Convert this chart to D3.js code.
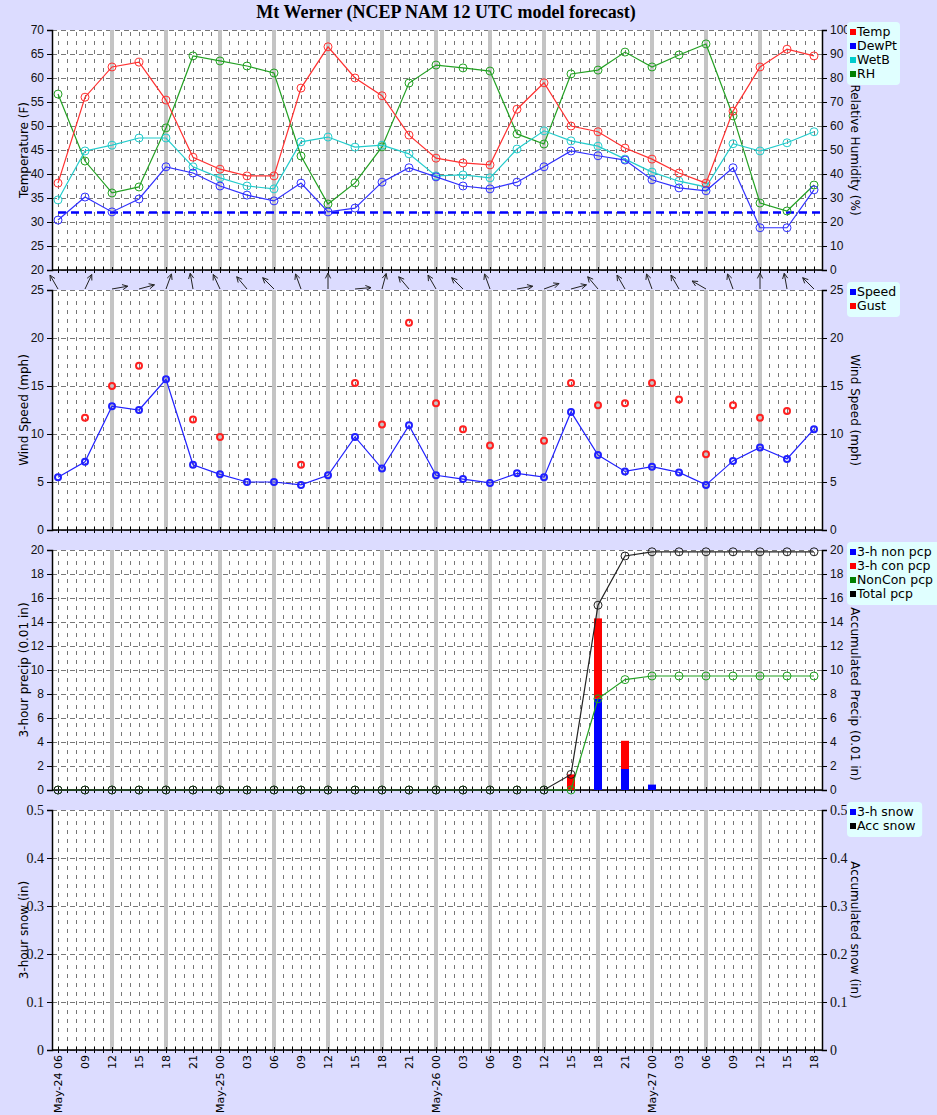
<!DOCTYPE html>
<html>
<head>
<meta charset="utf-8">
<script src="https://cdn.jsdelivr.net/npm/d3@7"></script>
<style>
body { margin: 0; background: #dcdcff; }
svg { display: block; font-family: "DejaVu Sans", Verdana, sans-serif; }
</style>
</head>
<body>
<div id="chart"></div>
<script>
// forecast hours, 3-hourly from May-24 06
const hourLabels = ["06","09","12","15","18","21","00","03","06","09","12","15","18","21","00","03","06","09","12","15","18","21","00","03","06","09","12","15","18"];
const dayLabels = {0: "May-24 06", 6: "May-25 00", 14: "May-26 00", 22: "May-27 00"};

const temp = [38.1,56.0,62.3,63.3,55.4,43.5,41.0,39.6,39.6,57.9,66.5,60.0,56.3,48.1,43.3,42.3,41.9,53.5,59.0,50.0,48.8,45.4,43.1,40.2,38.1,53.1,62.3,66.0,64.6];
const dewpt = [30.4,35.2,32.1,34.8,41.5,40.2,37.5,35.6,34.4,38.1,32.1,32.9,38.3,41.3,39.4,37.5,36.9,38.3,41.5,44.8,43.8,42.9,38.8,37.1,36.5,41.3,28.8,28.8,36.7];
const wetb = [34.6,44.8,46.0,47.5,47.5,41.5,39.2,37.5,36.9,46.7,47.7,45.6,46.0,44.2,39.6,39.8,39.2,45.2,49.0,46.9,45.8,43.1,40.4,38.5,37.3,46.3,44.8,46.5,48.8];
const rh = [73.3,45.4,32.1,34.6,59.2,89.2,87.1,85.0,82.1,47.5,27.5,36.3,51.3,77.9,85.4,84.2,82.9,56.7,52.5,81.7,83.3,90.8,84.6,89.6,94.2,64.2,27.9,24.6,35.4];
const freezing = 32;

// wind direction arrows: heading in degrees clockwise from north
const windDir = [-30,25,80,75,20,-10,-25,-40,-45,-20,0,85,15,-40,-30,-45,-20,80,70,75,-40,-30,-20,-30,-60,-20,0,-10,-45];
const speed = [5.5,7.1,12.9,12.5,15.7,6.8,5.8,5.0,5.0,4.7,5.7,9.7,6.4,10.9,5.7,5.3,4.9,5.9,5.5,12.3,7.8,6.1,6.6,6.0,4.7,7.2,8.6,7.4,10.5];
const gust = [null,11.7,15.0,17.1,null,11.5,9.7,null,null,6.8,null,15.3,11.0,21.6,13.2,10.5,8.8,null,9.3,15.3,13.0,13.2,15.3,13.6,7.9,13.0,11.7,12.4,null];

const nonPcp = [0,0,0,0,0,0,0,0,0,0,0,0,0,0,0,0,0,0,0,0,7.6,1.75,0.45,0,0,0,0,0,0];
const conPcp = [0,0,0,0,0,0,0,0,0,0,0,0,0,0,0,0,0,0,0,1.3,6.7,2.35,0,0,0,0,0,0,0];
const accNonCon = [0,0,0,0,0,0,0,0,0,0,0,0,0,0,0,0,0,0,0,0,7.6,9.2,9.5,9.5,9.5,9.5,9.5,9.5,9.5];
const accTotal = [0,0,0,0,0,0,0,0,0,0,0,0,0,0,0,0,0,0,0,1.3,15.4,19.5,19.85,19.85,19.85,19.85,19.85,19.85,19.85];

const W = 937, H = 1115, L = 52, R = 822;
const svg = d3.select("#chart").append("svg").attr("width", W).attr("height", H);
svg.append("rect").attr("width", W).attr("height", H).attr("fill", "#dcdcff");

const x = d3.scaleLinear().domain([0, 28]).range([58, 814]);
const idx = d3.range(29);
const crisp = v => Math.round(v) + 0.5;

svg.append("text").attr("x", 446).attr("y", 18).attr("text-anchor", "middle")
    .style("font-family", "'Liberation Serif', serif").style("font-weight", "bold").style("font-size", "18px")
    .text("Mt Werner (NCEP NAM 12 UTC model forecast)");

function panel(top, bottom, yDomL, ticksL, yDomR, ticksR, titleL, titleR, legend, fmt, serifTicks, rTitleShift = 0) {
    const g = svg.append("g");
    g.append("rect").attr("x", L).attr("y", top).attr("width", R - L).attr("height", bottom - top).attr("fill", "white");
    const yL = d3.scaleLinear().domain(yDomL).range([bottom, top]);
    const yR = d3.scaleLinear().domain(yDomR).range([bottom, top]);
    // hourly dashed verticals
    d3.range(0, 85).forEach(h => {
        const xx = crisp(x(h / 3));
        if (xx > R) return;
        g.append("line").attr("x1", xx).attr("x2", xx).attr("y1", top + 2).attr("y2", bottom)
            .attr("stroke", "#777").attr("stroke-dasharray", "4,5").attr("shape-rendering", "crispEdges");
    });
    // horizontal dashed at majors
    ticksL.forEach(t => {
        const yy = crisp(yL(t));
        g.append("line").attr("x1", L).attr("x2", R).attr("y1", yy).attr("y2", yy)
            .attr("stroke", "#777").attr("stroke-dasharray", "5,4").attr("shape-rendering", "crispEdges");
    });
    // gray 6-hourly bars
    d3.range(2, 27, 2).forEach(i => {
        g.append("line").attr("x1", x(i)).attr("x2", x(i)).attr("y1", top).attr("y2", bottom)
            .attr("stroke", "#c4c4c4").attr("stroke-width", 4);
    });
    const fs = serifTicks ? "'Liberation Serif', serif" : null;
    const ax = g.append("g").attr("transform", `translate(${L},0)`)
        .call(d3.axisLeft(yL).tickValues(ticksL).tickSizeOuter(0).tickSize(5).tickFormat(fmt));
    const ax2 = g.append("g").attr("transform", `translate(${R},0)`)
        .call(d3.axisRight(yR).tickValues(ticksR).tickSizeOuter(0).tickSize(5).tickFormat(fmt));
    [ax, ax2].forEach(a => {
        a.selectAll("text").style("font-size", serifTicks ? "14px" : "12px").attr("fill", "#111");
        if (fs) a.selectAll("text").style("font-family", fs);
        a.select(".domain").attr("stroke", "black").attr("stroke-width", 1.5);
    });
    // bottom axis with hourly ticks
    const bx = g.append("g").attr("transform", `translate(0,${bottom})`);
    bx.append("line").attr("x1", L).attr("x2", R).attr("y1", 0).attr("y2", 0).attr("stroke", "black").attr("stroke-width", 1.5);
    d3.range(0, 85).forEach(h => {
        const xx = crisp(x(h / 3));
        bx.append("line").attr("x1", xx).attr("x2", xx).attr("y1", -3).attr("y2", 3).attr("stroke", "black");
    });
    g.append("text").attr("transform", `translate(28,${(top + bottom) / 2}) rotate(-90)`)
        .attr("text-anchor", "middle").style("font-size", "12px").text(titleL);
    g.append("text").attr("transform", `translate(851,${(top + bottom) / 2 + rTitleShift}) rotate(90)`)
        .attr("text-anchor", "middle").style("font-size", "12px").text(titleR);
    // legend
    const lw = d3.max(legend, d => d[0].length) * 7.4 + 16;
    g.append("rect").attr("x", 847).attr("y", top - 8).attr("width", lw).attr("height", legend.length * 14 + 7)
        .attr("rx", 4).attr("fill", "#e0ffff");
    legend.forEach((d, i) => {
        g.append("rect").attr("x", 850).attr("y", top - 1 + i * 14).attr("width", 6).attr("height", 6).attr("fill", d[1]);
        g.append("text").attr("x", 857).attr("y", top + 6 + i * 14).style("font-size", "12.5px").text(d[0]);
    });
    return { g, yL, yR };
}

function series(g, vals, y, color, r, sw) {
    const pts = idx.filter(i => vals[i] != null);
    g.append("path").datum(pts).attr("fill", "none").attr("stroke", color).attr("stroke-width", 1.2)
        .attr("d", d3.line().x(i => x(i)).y(i => y(vals[i])));
    dots(g, vals, y, color, r, sw);
}
function dots(g, vals, y, color, r, sw) {
    g.selectAll(null).data(idx.filter(i => vals[i] != null)).enter().append("circle")
        .attr("cx", i => x(i)).attr("cy", i => y(vals[i])).attr("r", r)
        .attr("fill", "none").attr("stroke", color).attr("stroke-width", sw);
}

// panel 1: temperature
const p1 = panel(30, 270, [20, 70], d3.range(20, 71, 5), [0, 100], d3.range(0, 101, 10),
    "Temperature (F)", "Relative Humidity (%)",
    [["Temp", "red"], ["DewPt", "blue"], ["WetB", "#00cccc"], ["RH", "green"]], d3.format("d"));
p1.g.append("line").attr("x1", x(0)).attr("x2", R).attr("y1", p1.yL(freezing)).attr("y2", p1.yL(freezing))
    .attr("stroke", "blue").attr("stroke-width", 2.5).attr("stroke-dasharray", "8,5");
series(p1.g, rh, p1.yR, "#22a022", 4, 1);
series(p1.g, wetb, p1.yL, "#22cccc", 4, 1);
series(p1.g, temp, p1.yL, "#ff3030", 4, 1);
series(p1.g, dewpt, p1.yL, "#3030ff", 4, 1);

// wind arrows
idx.forEach(i => {
    const a = windDir[i] * Math.PI / 180, len = 16;
    const x0 = x(i), y0 = 289;
    const x1 = x0 + len * Math.sin(a), y1 = y0 - len * Math.cos(a);
    const hx = Math.sin(a), hy = -Math.cos(a);
    const hl = 6, spread = 0.45;
    const p = (ang) => [x1 - hl * (hx * Math.cos(ang) - hy * Math.sin(ang)), y1 - hl * (hy * Math.cos(ang) + hx * Math.sin(ang))];
    const [ax1, ay1] = p(spread), [ax2, ay2] = p(-spread);
    svg.append("path").attr("d", `M${x0},${y0}L${x1},${y1}M${ax1},${ay1}L${x1},${y1}L${ax2},${ay2}`)
        .attr("fill", "none").attr("stroke", "#222").attr("stroke-width", 1);
});

// panel 2: wind
const p2 = panel(290, 530, [0, 25], d3.range(0, 26, 5), [0, 25], d3.range(0, 26, 5),
    "Wind Speed (mph)", "Wind Speed (mph)", [["Speed", "blue"], ["Gust", "red"]], d3.format("d"));
series(p2.g, speed, p2.yL, "#2020ff", 3, 2);
dots(p2.g, gust, p2.yL, "#ff2020", 3, 2);

// panel 3: precip
const p3 = panel(550, 790, [0, 20], d3.range(0, 21, 2), [0, 20], d3.range(0, 21, 2),
    "3-hour precip (0.01 in)", "Accumulated Precip (0.01 in)",
    [["3-h non pcp", "blue"], ["3-h con pcp", "red"], ["NonCon pcp", "green"], ["Total pcp", "black"]], d3.format("d"), false, 24);
idx.forEach(i => {
    if (nonPcp[i] > 0)
        p3.g.append("rect").attr("x", x(i) - 4).attr("width", 8).attr("y", p3.yL(nonPcp[i]))
            .attr("height", p3.yL(0) - p3.yL(nonPcp[i])).attr("fill", "blue");
    if (conPcp[i] > 0)
        p3.g.append("rect").attr("x", x(i) - 4).attr("width", 8).attr("y", p3.yL(nonPcp[i] + conPcp[i]))
            .attr("height", p3.yL(nonPcp[i]) - p3.yL(nonPcp[i] + conPcp[i])).attr("fill", "red");
});
series(p3.g, accNonCon, p3.yR, "#22a022", 4, 1);
series(p3.g, accTotal, p3.yR, "#222", 4, 1);

// panel 4: snow
const snowTicks = [0, 0.1, 0.2, 0.3, 0.4, 0.5];
panel(810, 1050, [0, 0.5], snowTicks, [0, 0.5], snowTicks,
    "3-hour snow (in)", "Accumulated snow (in)", [["3-h snow", "blue"], ["Acc snow", "black"]], d => String(d), true);

// x labels
idx.forEach(i => {
    const lab = dayLabels[i] || hourLabels[i];
    svg.append("text").attr("transform", `translate(${x(i) + 4},1055) rotate(-90)`)
        .attr("text-anchor", "end").style("font-size", "11px").text(lab);
});
</script>
</body>
</html>
